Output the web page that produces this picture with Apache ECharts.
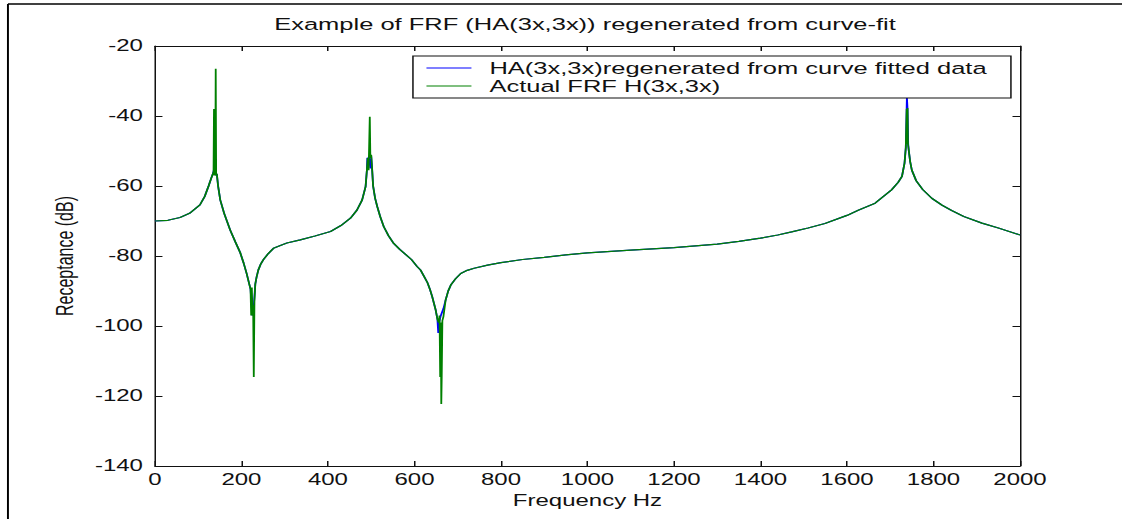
<!DOCTYPE html>
<html>
<head>
<meta charset="utf-8">
<script src="https://cdn.jsdelivr.net/npm/echarts@6/dist/echarts.min.js"></script>
<style>
  html, body { margin: 0; padding: 0; background: #fff; overflow: hidden; }
  /* The figure is laid out on a narrower canvas and widened horizontally, like the original export */
  #chart { width: 748px; height: 519px; transform: scaleX(1.5); transform-origin: 0 0; }
</style>
</head>
<body>
<div id="chart"></div>
<script>
// Measured FRF H(3x,3x), frequency in Hz and receptance in dB
const actualFreq = [0, 30, 58, 80, 104, 115, 124, 130, 134, 135.5, 136.5, 137.5, 138.5, 139.5, 140.5, 141.5, 143, 146, 151, 160, 174, 186, 197, 205, 212, 218, 221, 222.5, 224, 225.5, 227, 228.5, 230, 232, 235, 239, 245, 251, 262, 274, 290, 305, 336, 370, 406, 430, 452, 467, 479, 487, 490, 492, 494, 496.7, 498, 500, 502, 504.4, 509, 514, 521, 529, 540, 552, 566, 580, 593, 606, 614, 622, 630, 636, 641, 649, 653, 656, 658, 659.5, 661, 662, 663, 664.5, 667, 672, 678, 684, 695, 707, 722, 738, 769, 800, 850, 900, 950, 1000, 1100, 1200, 1300, 1350, 1400, 1440, 1472, 1510, 1549, 1600, 1626, 1665, 1703, 1718, 1727, 1733, 1736, 1738, 1739, 1740, 1741, 1743, 1746, 1750, 1760, 1775, 1796, 1820, 1842, 1870, 1912, 1950, 2000];
const actualDb = [-70, -69.8, -69, -67.8, -65.4, -63, -60, -57.8, -56.5, -56, -38, -57, -38, -56.5, -26.5, -57, -56.5, -60, -64, -67.8, -72.6, -76, -79, -82, -85, -88, -89.5, -97, -89, -97, -94, -114.6, -93, -88, -86, -84, -82.2, -81, -79.3, -77.8, -77, -76.3, -75.4, -74.3, -73, -71.3, -69.2, -66.9, -64, -60.2, -55.5, -52, -55.5, -40.2, -52, -51.1, -55, -60, -63.5, -65.9, -68.8, -71.6, -74.2, -76.4, -78.1, -79.6, -81, -83, -84, -85.8, -87.6, -89.6, -91.6, -95.4, -98, -99, -97, -114.6, -99, -122.3, -114.6, -98.5, -97.3, -92.6, -90, -88.3, -86.5, -85, -84.1, -83.5, -82.6, -81.9, -81, -80.4, -79.7, -79.1, -78.3, -77.6, -76.6, -75.8, -74.9, -74, -73.1, -72, -70.7, -68.4, -66.9, -64.9, -61.1, -59, -57.3, -53.5, -49, -38, -48, -37.7, -48, -50, -53, -55.5, -58.5, -61, -63.5, -65.5, -67, -68.7, -70.6, -72, -74];

// FRF HA(3x,3x) regenerated from the curve-fitted modal data
const fitFreq = [0, 30, 58, 80, 104, 115, 124, 130, 134, 136, 139, 141.5, 143, 146, 151, 160, 174, 186, 197, 205, 212, 218, 221, 223, 225, 227, 229, 232, 235, 239, 245, 251, 262, 274, 290, 305, 336, 370, 406, 430, 452, 467, 479, 487, 490, 491, 495, 498, 500, 502, 504.4, 509, 514, 521, 529, 540, 552, 566, 580, 593, 606, 614, 622, 630, 636, 641, 649, 653, 655, 657, 659, 661, 663, 667, 672, 678, 684, 695, 707, 722, 738, 769, 800, 850, 900, 950, 1000, 1100, 1200, 1300, 1350, 1400, 1440, 1472, 1510, 1549, 1600, 1626, 1665, 1703, 1718, 1727, 1733, 1736, 1738.5, 1740, 1741.5, 1743, 1746, 1750, 1760, 1775, 1796, 1820, 1842, 1870, 1912, 1950, 2000];
const fitDb = [-70, -69.8, -69, -67.8, -65.4, -63, -60, -57.8, -56.5, -55.5, -55.5, -57, -56.5, -60, -64, -67.8, -72.6, -76, -79, -82, -85, -88, -89.5, -93, -97, -97, -93.5, -88, -86, -84, -82.2, -81, -79.3, -77.8, -77, -76.3, -75.4, -74.3, -73, -71.3, -69.2, -66.9, -64, -60.2, -55.5, -52, -52, -55, -51.5, -55, -60, -63.5, -65.9, -68.8, -71.6, -74.2, -76.4, -78.1, -79.6, -81, -83, -84, -85.8, -87.6, -89.6, -91.6, -95.4, -98, -102, -99, -99, -97, -97, -95, -92.6, -90, -88.3, -86.5, -85, -84.1, -83.5, -82.6, -81.9, -81, -80.4, -79.7, -79.1, -78.3, -77.6, -76.6, -75.8, -74.9, -74, -73.1, -72, -70.7, -68.4, -66.9, -64.9, -61.1, -59, -57.3, -53.5, -49, -34.6, -38, -48, -50, -53, -55.5, -58.5, -61, -63.5, -65.5, -67, -68.7, -70.6, -72, -74];

const seriesNames = ['HA(3x,3x)regenerated from curve fitted data', 'Actual FRF H(3x,3x)'];
const titleText = 'Example of FRF (HA(3x,3x)) regenerated from curve-fit';
const xName = 'Frequency Hz';
const yName = 'Receptance (dB)';

const pairs = (xs, ys) => xs.map((x, i) => [x, ys[i]]);

const FONT = '"Liberation Sans", Arial, sans-serif';
const INK = '#111';

const chart = echarts.init(document.getElementById('chart'), null, { renderer: 'svg' });

const boxAxis = (extra) => Object.assign({
  axisLine: { show: true, onZero: false, lineStyle: { color: INK, width: 1 } },
  axisTick: { show: true, inside: true, length: 5, lineStyle: { color: INK } },
  splitLine: { show: false }
}, extra);

chart.setOption({
  animation: false,
  backgroundColor: '#fff',
  grid: { left: 103.3, right: 68, top: 46, bottom: 53 },
  graphic: [
    { type: 'line', shape: { x1: 5.3, y1: 4, x2: 748, y2: 4 }, style: { stroke: '#000', lineWidth: 1.3 } },
    { type: 'line', shape: { x1: 5.3, y1: 4, x2: 5.3, y2: 519 }, style: { stroke: '#000', lineWidth: 1.3 } },
    { type: 'text', x: 390, y: 24, style: { text: titleText, font: '17px ' + FONT, fill: INK, textAlign: 'center', textVerticalAlign: 'middle' } }
  ],
  legend: {
    orient: 'vertical',
    left: 275.3,
    top: 56,
    padding: [3, 16, 3, 9],
    itemGap: 0,
    itemWidth: 30,
    itemHeight: 1.2,
    icon: 'rect',
    backgroundColor: '#fff',
    borderColor: INK,
    borderWidth: 1,
    borderRadius: 0,
    selectedMode: false,
    textStyle: { fontFamily: FONT, fontSize: 17, color: INK, lineHeight: 18, padding: [0, 0, 0, 7] },
    data: seriesNames
  },
  xAxis: [
    boxAxis({
      type: 'value', min: 0, max: 2000, interval: 200, position: 'bottom',
      name: xName, nameLocation: 'middle', nameGap: 23,
      nameTextStyle: { fontFamily: FONT, fontSize: 16, color: INK },
      axisLabel: { fontFamily: FONT, fontSize: 16, color: INK, margin: 6, formatter: (v) => String(v) }
    }),
    boxAxis({ type: 'value', min: 0, max: 2000, interval: 200, position: 'top', axisLabel: { show: false } })
  ],
  yAxis: [
    boxAxis({
      type: 'value', min: -140, max: -20, interval: 20, position: 'left',
      name: yName, nameLocation: 'middle', nameGap: 52, nameRotate: 90,
      nameTextStyle: { fontFamily: FONT, fontSize: 16, color: INK },
      axisLabel: { fontFamily: FONT, fontSize: 16, color: INK, margin: 8, formatter: (v) => String(v) }
    }),
    boxAxis({ type: 'value', min: -140, max: -20, interval: 20, position: 'right', axisLabel: { show: false } })
  ],
  series: [
    {
      name: seriesNames[0], type: 'line', symbol: 'none', z: 2,
      lineStyle: { color: '#0000ff', width: 1.2 }, itemStyle: { color: '#0000ff' },
      data: pairs(fitFreq, fitDb)
    },
    {
      name: seriesNames[1], type: 'line', symbol: 'none', z: 3,
      lineStyle: { color: '#008000', width: 1.2 }, itemStyle: { color: '#008000' },
      data: pairs(actualFreq, actualDb)
    }
  ]
});
</script>
</body>
</html>
